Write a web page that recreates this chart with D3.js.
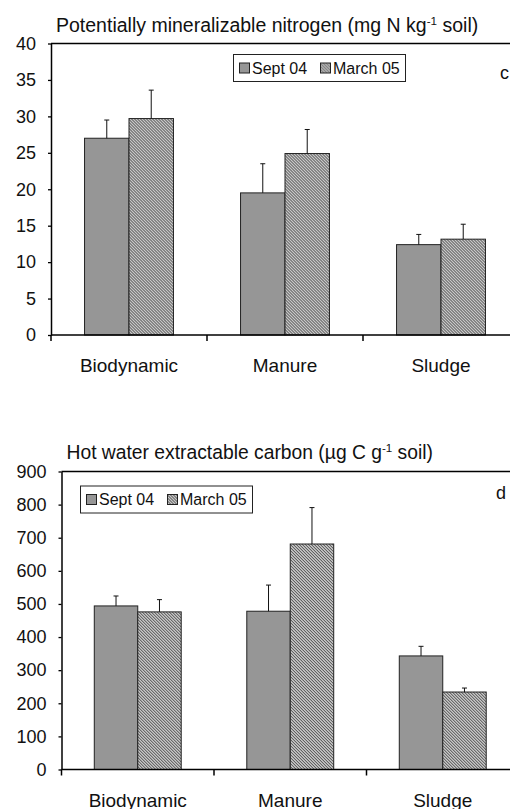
<!DOCTYPE html>
<html>
<head>
<meta charset="utf-8">
<script src="https://cdn.jsdelivr.net/npm/d3@7/dist/d3.min.js"></script>
<style>
  html, body { margin: 0; padding: 0; background: #fff; }
  svg { display: block; font-family: "Liberation Sans", Arial, sans-serif; }
</style>
</head>
<body>
<svg id="chart" width="510" height="809"></svg>
<script>
// Treatments and sampling dates
const categories = ["Biodynamic", "Manure", "Sludge"];
const seriesNames = ["Sept 04", "March 05"];

// Panel c: potentially mineralizable nitrogen (mg N kg-1 soil)
const pmnSept = [27.0, 19.5, 12.4];
const pmnSeptErr = [2.5, 4.0, 1.4];
const pmnMarch = [29.7, 24.9, 13.15];
const pmnMarchErr = [3.9, 3.3, 2.05];
const pmnTicks = [0, 5, 10, 15, 20, 25, 30, 35, 40];

// Panel d: hot water extractable carbon (µg C g-1 soil)
const hwcSept = [494, 478, 343];
const hwcSeptErr = [30, 79, 29];
const hwcMarch = [476, 681, 234];
const hwcMarchErr = [37, 110, 12];
const hwcTicks = [0, 100, 200, 300, 400, 500, 600, 700, 800, 900];

const svg = d3.select("#chart");
const defs = svg.append("defs");

// Dense diagonal hatching for the March bars
const pat = defs.append("pattern")
  .attr("id", "hatch")
  .attr("patternUnits", "userSpaceOnUse")
  .attr("width", 3).attr("height", 3);
pat.append("rect").attr("width", 3).attr("height", 3).attr("fill", "#fff");
pat.append("path")
  .attr("d", "M0,0 L3,3 M-1,2 L1,4 M2,-1 L4,1")
  .attr("stroke", "#3c3c3c").attr("stroke-width", 1.1);

const fills = ["#969696", "url(#hatch)"];

function drawPanel(p) {
  const g = svg.append("g");
  const y = d3.scaleLinear().domain([p.ticks[0], p.ticks[p.ticks.length - 1]]).range([p.bottom, p.top]);
  const x = d3.scaleBand().domain(categories).range([p.left, p.right])
    .paddingInner(0.43).paddingOuter(0.215);
  const xs = d3.scaleBand().domain(seriesNames).range([0, x.bandwidth()]);
  const step = x.step();

  // Title with superscript
  const t = g.append("text")
    .attr("x", p.titleX).attr("y", p.titleY)
    .attr("font-size", p.titleSize).attr("fill", "#111");
  t.append("tspan").text(p.title[0]);
  t.append("tspan").attr("font-size", p.titleSize * 0.6).attr("dy", -7.5).text(p.title[1]);
  t.append("tspan").attr("dy", 7.5).text(p.title[2]);

  // Plot frame top line
  g.append("line")
    .attr("x1", p.left).attr("x2", p.right)
    .attr("y1", p.top).attr("y2", p.top)
    .attr("stroke", "#000").attr("stroke-width", 1.5);

  // Y axis
  const ya = g.append("g").attr("transform", `translate(${p.left},0)`)
    .call(d3.axisLeft(y).tickValues(p.ticks).tickSize(3).tickSizeOuter(0).tickPadding(12));
  ya.select(".domain").attr("stroke", "#000").attr("stroke-width", 1.5);
  ya.selectAll(".tick line").attr("stroke", "#000").attr("stroke-width", 1.3);
  ya.selectAll(".tick text").attr("font-size", 18).attr("fill", "#111")
    .attr("font-family", "Liberation Sans, Arial, sans-serif");

  // Bars
  const rows = categories.map((c, i) => ({
    cat: c,
    vals: [
      { s: seriesNames[0], v: p.sept[i], e: p.septErr[i] },
      { s: seriesNames[1], v: p.march[i], e: p.marchErr[i] }
    ]
  }));
  const grp = g.selectAll(".grp").data(rows).join("g")
    .attr("transform", d => `translate(${x(d.cat)},0)`);
  grp.selectAll("rect").data(d => d.vals).join("rect")
    .attr("x", d => xs(d.s)).attr("width", xs.bandwidth())
    .attr("y", d => y(d.v)).attr("height", d => y(0) - y(d.v))
    .attr("fill", (d, i) => fills[i])
    .attr("stroke", "#222").attr("stroke-width", 1);

  // Upper error bars
  grp.selectAll(".err").data(d => d.vals).join("path")
    .attr("class", "err")
    .attr("d", d => {
      const cx = xs(d.s) + xs.bandwidth() / 2;
      const y0 = y(d.v), y1 = y(d.v + d.e);
      return `M${cx},${y0}V${y1}M${cx - 2.5},${y1}H${cx + 2.5}`;
    })
    .attr("fill", "none").attr("stroke", "#111").attr("stroke-width", 1);

  // X axis with ticks at category boundaries
  g.append("line")
    .attr("x1", p.left).attr("x2", p.right)
    .attr("y1", y(0)).attr("y2", y(0))
    .attr("stroke", "#000").attr("stroke-width", 1.5);
  const bounds = categories.map(c => x(c) - (step - x.bandwidth()) / 2);
  g.selectAll(".xtick").data(bounds).join("line")
    .attr("x1", d => d).attr("x2", d => d)
    .attr("y1", y(0)).attr("y2", y(0) + 6)
    .attr("stroke", "#000").attr("stroke-width", 1.5);
  g.selectAll(".xlab").data(categories).join("text")
    .attr("x", c => x(c) + x.bandwidth() / 2)
    .attr("y", y(0) + 37)
    .attr("text-anchor", "middle")
    .attr("font-size", 19).attr("fill", "#111")
    .text(c => c);

  // Legend
  const lg = g.append("g").attr("transform", `translate(${p.legX},${p.legY})`);
  lg.append("rect").attr("width", 172).attr("height", 27)
    .attr("fill", "#fff").attr("stroke", "#222").attr("stroke-width", 1);
  const itemX = [6, 87];
  seriesNames.forEach((s, i) => {
    lg.append("rect").attr("x", itemX[i]).attr("y", 8.5)
      .attr("width", 10).attr("height", 10)
      .attr("fill", fills[i]).attr("stroke", "#222").attr("stroke-width", 1);
    lg.append("text").attr("x", itemX[i] + 12.5).attr("y", 19)
      .attr("font-size", 16).attr("fill", "#111").text(s);
  });

  // Panel letter
  g.append("text").attr("x", p.letterX).attr("y", p.letterY)
    .attr("font-size", 18).attr("fill", "#111").text(p.letter);
}

drawPanel({
  title: ["Potentially mineralizable nitrogen (mg N kg", "-1", " soil)"],
  titleX: 56, titleY: 32, titleSize: 19.5,
  left: 51, right: 519, top: 43.5, bottom: 335,
  ticks: pmnTicks,
  sept: pmnSept, septErr: pmnSeptErr, march: pmnMarch, marchErr: pmnMarchErr,
  legX: 233.5, legY: 54.5,
  letter: "c", letterX: 500, letterY: 79
});

drawPanel({
  title: ["Hot water extractable carbon (µg C g", "-1", " soil)"],
  titleX: 66.5, titleY: 459, titleSize: 19.3,
  left: 61.5, right: 519, top: 471.5, bottom: 769.5,
  ticks: hwcTicks,
  sept: hwcSept, septErr: hwcSeptErr, march: hwcMarch, marchErr: hwcMarchErr,
  legX: 80.5, legY: 486,
  letter: "d", letterX: 496, letterY: 499
});
</script>
</body>
</html>
